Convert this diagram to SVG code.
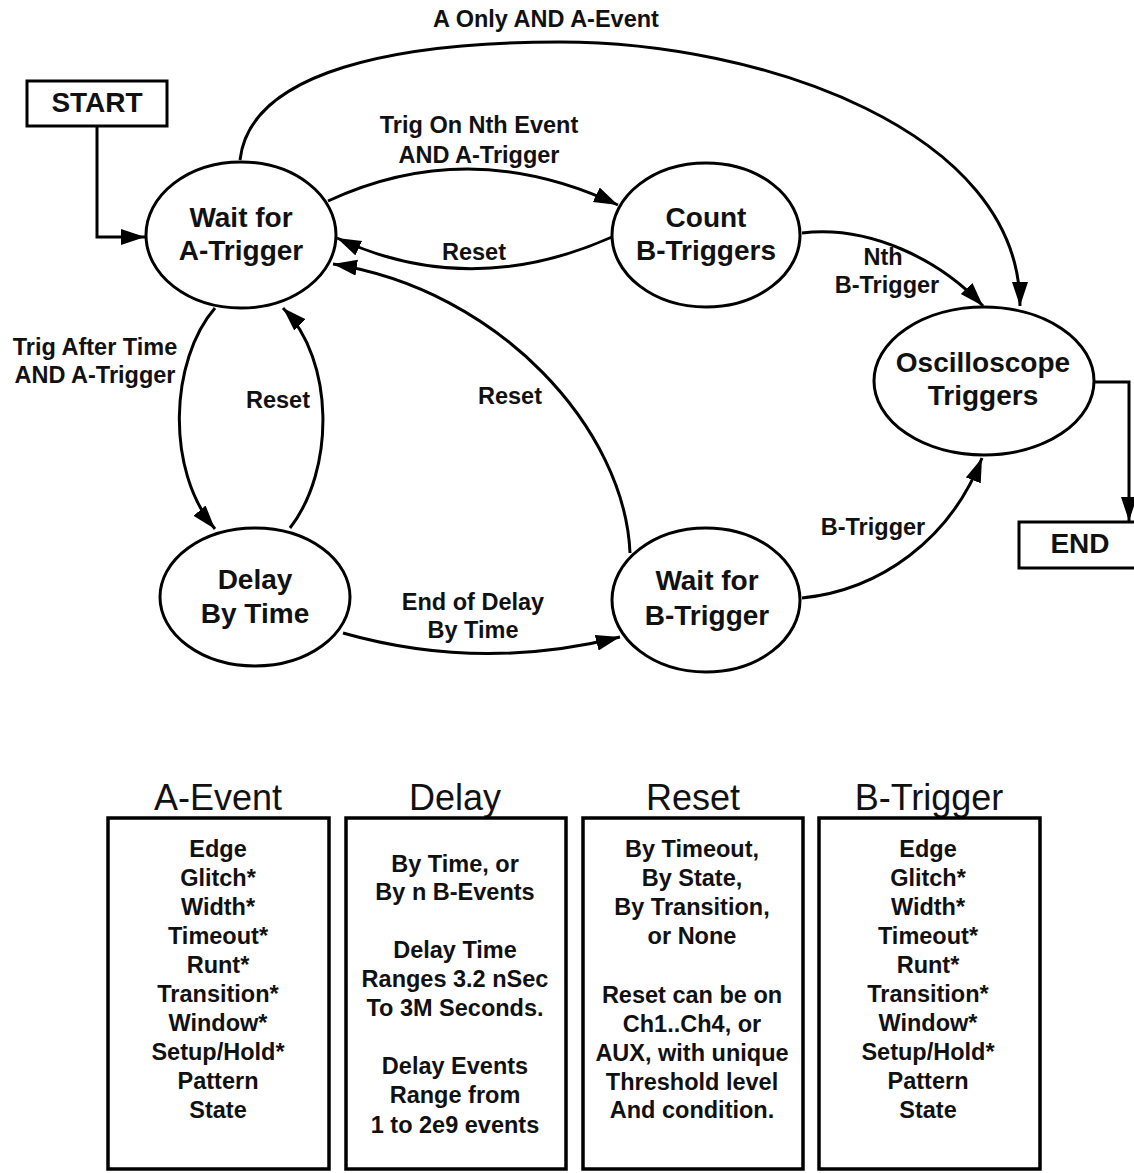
<svg xmlns="http://www.w3.org/2000/svg" width="1134" height="1173" viewBox="0 0 1134 1173">
<style>
text{font-family:"Liberation Sans",Arial,sans-serif;fill:#111;text-anchor:middle}
.n{font-size:28px;font-weight:bold}
.l{font-size:23.5px;font-weight:bold}
.b{font-size:23.5px;font-weight:bold}
.t{font-size:36px}
.shape{fill:#fff;stroke:#000;stroke-width:3}
.box{fill:#fff;stroke:#000;stroke-width:3.5}
.c{fill:none;stroke:#000;stroke-width:3}
</style>
<defs>
<marker id="ah" markerUnits="userSpaceOnUse" markerWidth="26" markerHeight="18" refX="24" refY="8" orient="auto">
<path d="M0,0 L24,8 L0,16 z" fill="#000"/>
</marker>
</defs>
<rect width="1134" height="1173" fill="#fff"/>
<g id="connectors">
<path class="c" d="M97 126 V237 H145" marker-end="url(#ah)"/>
<path class="c" d="M240 160 C250 70 400 42 560 42 C760 42 1020 130 1020 306" marker-end="url(#ah)"/>
<path class="c" d="M328 201 Q470 135 618 205" marker-end="url(#ah)"/>
<path class="c" d="M612 237 Q470 300 337 238" marker-end="url(#ah)"/>
<path class="c" d="M630 553 C625 430 500 290 333 264" marker-end="url(#ah)"/>
<path class="c" d="M215 308 C170 360 165 470 215 529" marker-end="url(#ah)"/>
<path class="c" d="M290 528 C335 470 335 360 283 308" marker-end="url(#ah)"/>
<path class="c" d="M343 633 Q480 672 620 637" marker-end="url(#ah)"/>
<path class="c" d="M802 598 C880 590 950 540 982 458" marker-end="url(#ah)"/>
<path class="c" d="M802 233 C870 225 940 260 983 306" marker-end="url(#ah)"/>
<path class="c" d="M1094 382 H1129 V521" marker-end="url(#ah)"/>
<text class="l" x="546" y="27">A Only AND A-Event</text>
<text class="l" x="479" y="133">Trig On Nth Event</text>
<text class="l" x="479" y="163">AND A-Trigger</text>
<text class="l" x="474" y="260">Reset</text>
<text class="l" x="883" y="265">Nth</text>
<text class="l" x="887" y="293">B-Trigger</text>
<text class="l" x="95" y="355">Trig After Time</text>
<text class="l" x="95" y="383">AND A-Trigger</text>
<text class="l" x="278" y="408">Reset</text>
<text class="l" x="510" y="404">Reset</text>
<text class="l" x="873" y="535">B-Trigger</text>
<text class="l" x="473" y="610">End of Delay</text>
<text class="l" x="473" y="638">By Time</text>
</g>
<g id="start">
<rect class="shape" x="27" y="81" width="140" height="45"/>
<text class="n" x="97" y="112">START</text>
</g>
<g id="end">
<rect class="shape" x="1019" y="522" width="130" height="46"/>
<text class="n" x="1080" y="553">END</text>
</g>
<g id="waitA">
<ellipse class="shape" cx="241" cy="235" rx="95" ry="73"/>
<text class="n" x="241" y="227">Wait for</text>
<text class="n" x="241" y="260">A-Trigger</text>
</g>
<g id="countB">
<ellipse class="shape" cx="706" cy="235" rx="94" ry="72"/>
<text class="n" x="706" y="227">Count</text>
<text class="n" x="706" y="260">B-Triggers</text>
</g>
<g id="osc">
<ellipse class="shape" cx="984" cy="381" rx="110" ry="74"/>
<text class="n" x="983" y="372">Oscilloscope</text>
<text class="n" x="983" y="405">Triggers</text>
</g>
<g id="delay">
<ellipse class="shape" cx="255" cy="597" rx="95" ry="69"/>
<text class="n" x="255" y="589">Delay</text>
<text class="n" x="255" y="623">By Time</text>
</g>
<g id="waitB">
<ellipse class="shape" cx="706" cy="600" rx="94" ry="72"/>
<text class="n" x="707" y="590">Wait for</text>
<text class="n" x="707" y="625">B-Trigger</text>
</g>
<g id="aevent">
<text class="t" x="218" y="810">A-Event</text>
<rect class="box" x="108" y="818" width="221" height="351"/>
<text class="b" x="218" y="857">Edge</text>
<text class="b" x="218" y="886">Glitch*</text>
<text class="b" x="218" y="915">Width*</text>
<text class="b" x="218" y="944">Timeout*</text>
<text class="b" x="218" y="973">Runt*</text>
<text class="b" x="218" y="1002">Transition*</text>
<text class="b" x="218" y="1031">Window*</text>
<text class="b" x="218" y="1060">Setup/Hold*</text>
<text class="b" x="218" y="1089">Pattern</text>
<text class="b" x="218" y="1118">State</text>
</g>
<g id="delaybox">
<text class="t" x="455" y="810">Delay</text>
<rect class="box" x="346" y="818" width="220" height="351"/>
<text class="b" x="455" y="872">By Time, or</text>
<text class="b" x="455" y="900">By n B-Events</text>
<text class="b" x="455" y="958">Delay Time</text>
<text class="b" x="455" y="987">Ranges 3.2 nSec</text>
<text class="b" x="455" y="1016">To 3M Seconds.</text>
<text class="b" x="455" y="1074">Delay Events</text>
<text class="b" x="455" y="1103">Range from</text>
<text class="b" x="455" y="1133">1 to 2e9 events</text>
</g>
<g id="resetbox">
<text class="t" x="693" y="810">Reset</text>
<rect class="box" x="583" y="818" width="220" height="351"/>
<text class="b" x="692" y="857">By Timeout,</text>
<text class="b" x="692" y="886">By State,</text>
<text class="b" x="692" y="915">By Transition,</text>
<text class="b" x="692" y="944">or None</text>
<text class="b" x="692" y="1003">Reset can be on</text>
<text class="b" x="692" y="1032">Ch1..Ch4, or</text>
<text class="b" x="692" y="1061">AUX, with unique</text>
<text class="b" x="692" y="1090">Threshold level</text>
<text class="b" x="692" y="1118">And condition.</text>
</g>
<g id="btrigger">
<text class="t" x="929" y="810">B-Trigger</text>
<rect class="box" x="819" y="818" width="221" height="351"/>
<text class="b" x="928" y="857">Edge</text>
<text class="b" x="928" y="886">Glitch*</text>
<text class="b" x="928" y="915">Width*</text>
<text class="b" x="928" y="944">Timeout*</text>
<text class="b" x="928" y="973">Runt*</text>
<text class="b" x="928" y="1002">Transition*</text>
<text class="b" x="928" y="1031">Window*</text>
<text class="b" x="928" y="1060">Setup/Hold*</text>
<text class="b" x="928" y="1089">Pattern</text>
<text class="b" x="928" y="1118">State</text>
</g>
</svg>
